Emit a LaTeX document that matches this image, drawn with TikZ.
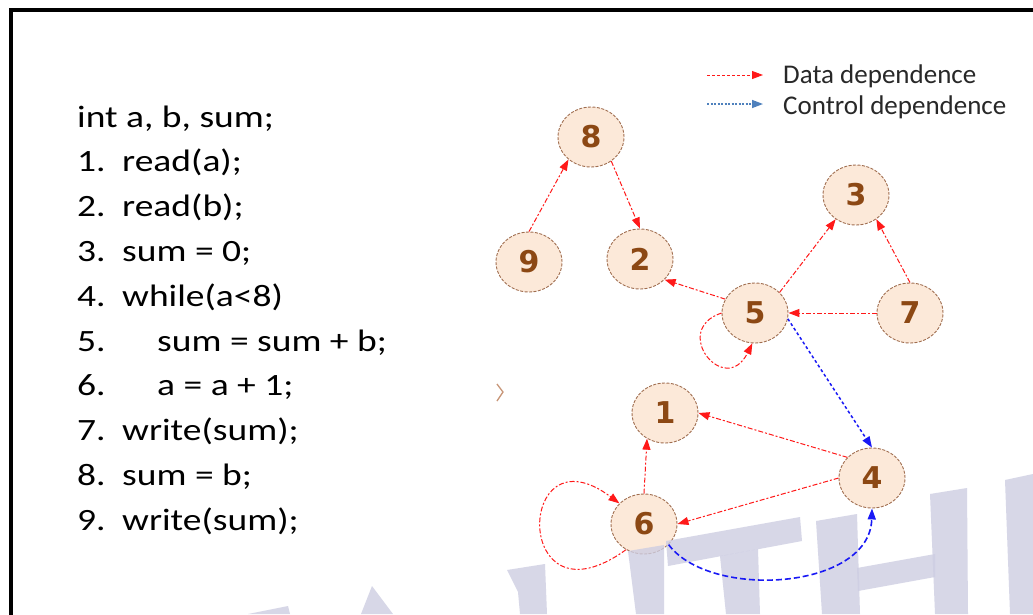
\documentclass[tikz,border=0pt]{standalone}
\usepackage{fontspec}
\setmainfont{Carlito}
\newfontfamily\codefont{Carlito}[FakeStretch=1.21]
\newfontfamily\digitfont{DejaVu Sans}
\usetikzlibrary{arrows.meta,shapes.geometric}
\definecolor{nodefill}{RGB}{252,233,217}
\definecolor{nodeline}{RGB}{160,110,80}
\definecolor{digitc}{RGB}{140,72,20}
\definecolor{datared}{RGB}{255,25,25}
\definecolor{ctrlblue}{RGB}{25,25,245}
\definecolor{legblue}{RGB}{79,129,189}
\definecolor{wmark}{RGB}{205,205,226}
\definecolor{legtext}{RGB}{40,40,40}
\definecolor{chev}{RGB}{200,150,120}
\begin{document}
\begin{tikzpicture}[x=1pt,y=-1pt,
  vnode/.style={ellipse, draw=nodeline, fill=nodefill, line width=0.9pt,
    dash pattern=on 3pt off 1.5pt, minimum width=66pt, minimum height=60pt,
    inner sep=0pt, font=\digitfont\bfseries\fontsize{30}{30}\selectfont, text=digitc},
  codeline/.style={anchor=base west, inner sep=0pt,
    font=\codefont\fontsize{31}{45}\selectfont, text=black},
  legline/.style={anchor=base west, inner sep=0pt,
    font=\fontsize{27}{32}\selectfont, text=legtext},
  data/.style={draw=datared, line width=1pt,
    dash pattern=on 5pt off 2pt on 2pt off 2pt,
    -{Triangle[length=11pt,width=8pt]}},
  ctrldot/.style={draw=ctrlblue, line width=1.5pt, dash pattern=on 3pt off 2.5pt,
    -{Triangle[length=11pt,width=8pt]}},
  ctrldash/.style={draw=ctrlblue, line width=1.6pt, dash pattern=on 6pt off 3pt,
    -{Triangle[length=11pt,width=8pt]}},
  legdata/.style={draw=datared, line width=0.9pt, dash pattern=on 3pt off 2pt,
    -{Triangle[length=11pt,width=8pt]}},
  legctrl/.style={draw=legblue, line width=1.4pt, dash pattern=on 2pt off 1.5pt,
    -{Triangle[length=11pt,width=8pt]}},
  wm/.style={fill=wmark, fill opacity=0.8, draw=none}
]
\useasboundingbox (0,0) rectangle (1033,614);
\fill[white] (0,0) rectangle (1033,614);

% frame
\draw[line width=3.5pt] (11,616) -- (11,10) -- (1035,10);

% code
\node[codeline] (c0) at (77,127) {int a, b, sum;};
\node[codeline] (k1) at (77,171.8) {1.};
\node[codeline] (c1) at (122,171.8) {read(a);};
\node[codeline] (k2) at (77,216.6) {2.};
\node[codeline] (c2) at (122,216.6) {read(b);};
\node[codeline] (k3) at (77,261.4) {3.};
\node[codeline] (c3) at (122,261.4) {sum = 0;};
\node[codeline] (k4) at (77,306.2) {4.};
\node[codeline] (c4) at (122,306.2) {while(a<8)};
\node[codeline] (k5) at (77,351) {5.};
\node[codeline] (c5) at (157,351) {sum = sum + b;};
\node[codeline] (k6) at (77,395.8) {6.};
\node[codeline] (c6) at (157,395.8) {a = a + 1;};
\node[codeline] (k7) at (77,440.6) {7.};
\node[codeline] (c7) at (122,440.6) {write(sum);};
\node[codeline] (k8) at (77,485.4) {8.};
\node[codeline] (c8) at (122,485.4) {sum = b;};
\node[codeline] (k9) at (77,530.2) {9.};
\node[codeline] (c9) at (122,530.2) {write(sum);};

% legend
\coordinate (la1) at (707,75);
\coordinate (la2) at (763,75);
\coordinate (lb1) at (707,104);
\coordinate (lb2) at (763,104);
\draw[legdata] (la1) -- (la2);
\draw[legctrl] (lb1) -- (lb2);
\node[legline] (ld) at (783,83) {Data dependence};
\node[legline] (lc) at (783,114) {Control dependence};

% stray mark
\draw[chev, line width=1.3pt] (497,384) -- (503,392) -- (497,401);

% nodes
\node[vnode] (n8) at (591,137) {8};
\node[vnode] (n9) at (529,262) {9};
\node[vnode] (n2) at (640,259) {2};
\node[vnode] (n3) at (856,195) {3};
\node[vnode] (n5) at (755,313) {5};
\node[vnode] (n7) at (910,313) {7};
\node[vnode] (n1) at (665,413) {1};
\node[vnode] (n4) at (872,478) {4};
\node[vnode] (n6) at (644,524) {6};

% watermark
\path[wm] (248,614) -- (288,606) -- (290,614) -- cycle;
\path[wm] (372,586) -- (361,614) -- (393,614) -- cycle;
\path[wm] (507,570) -- (545,564) -- (547,614) -- (520,614) -- (518,592) -- cycle;
\path[wm] (628,551) -- (664,545) -- (664,614) -- (636,614) -- cycle;
\path[wm] (666,541) -- (800,517) -- (802,541) -- (668,566) -- cycle;
\path[wm] (720,556) -- (758,549) -- (760,614) -- (726,614) -- cycle;
\path[wm] (816,521) -- (857,514) -- (860,614) -- (822,614) -- cycle;
\path[wm] (857,568) -- (935,554) -- (935,577) -- (858,591) -- cycle;
\path[wm] (930,494) -- (967,488) -- (968,614) -- (935,614) -- cycle;
\path[wm] (1005,480) -- (1033,474) -- (1033,614) -- (1010,614) -- cycle;

% data dependences
\draw[data] (n9.north) -- (n8.225);
\draw[data] (n8.-50) -- (n2.north);
\draw[data] (n5.155) -- (n2.-40);
\draw[data] (n5.40) -- (n3.230);
\draw[data] (n7.north) -- (n3.-50);
\draw[data] (n7) -- (n5);
\draw[data] (n5.west) .. controls (670,330) and (725,398) .. (n5.265);
\draw[data] (n4.140) -- (n1.east);
\draw[data] (n4.west) -- (n6.east);
\draw[data] (n6.north) -- (n1.235);
\draw[data] (n6.235) .. controls (512,632) and (515,425) .. (n6.140);

% control dependences
\draw[ctrldot] (n5.-10) -- (n4.north);
\draw[ctrldash] (n6.-40) .. controls (710,600) and (870,590) .. (n4.south);
\end{tikzpicture}
\end{document}
